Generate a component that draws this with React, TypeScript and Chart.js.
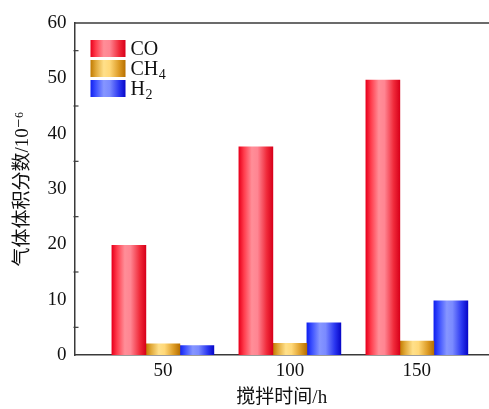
import React, { useEffect, useRef } from "react";
import { Chart, registerables } from "chart.js";

Chart.register(...registerables);

const categories = [50, 100, 150];
const seriesNames = ["CO", "CH₄", "H₂"];
const legendMain = ["CO", "CH", "H"];
const legendSub = ["", "4", "2"];
const coValues = [19.8, 37.6, 49.7];
const ch4Values = [2.0, 2.1, 2.5];
const h2Values = [1.7, 5.8, 9.8];
const yTicks = [0, 10, 20, 30, 40, 50, 60];
const yMinorTicks = [5, 15, 25, 35, 45, 55];

const BAR_W = 34;
const SERIF = '"Liberation Serif", "DejaVu Serif", "Noto Sans CJK SC", serif';

const gradientStops: string[][] = [
  ["#e8001c", "#ff3c4c", "#ff8e98", "#ff8592", "#f02a3a", "#d8001a"],
  ["#c07a00", "#e0a838", "#ffe08a", "#ffd878", "#dc9a24", "#b87000"],
  ["#1020f0", "#3c50ff", "#8696ff", "#7a8aff", "#2a36f0", "#0808c8"],
];
const flatColors = ["#ff5060", "#e8b040", "#5060ff"];

function makeGradient(ctx: CanvasRenderingContext2D, x0: number, x1: number, idx: number) {
  const g = ctx.createLinearGradient(x0, 0, x1, 0);
  const stops = gradientStops[idx];
  const pos = [0, 0.15, 0.38, 0.55, 0.82, 1];
  stops.forEach((c, i) => g.addColorStop(pos[i], c));
  return g;
}

const decorPlugin = {
  id: "decor",
  afterDraw(chart: any) {
    const ctx = chart.ctx as CanvasRenderingContext2D;
    const area = chart.chartArea;
    const y = chart.scales.y;
    ctx.save();
    // top frame line
    ctx.strokeStyle = "#3a3a3a";
    ctx.lineWidth = 1.5;
    ctx.beginPath();
    ctx.moveTo(area.left, area.top);
    ctx.lineTo(area.right, area.top);
    ctx.stroke();
    // minor ticks on left axis
    ctx.lineWidth = 1.2;
    yMinorTicks.forEach((v) => {
      const py = y.getPixelForValue(v);
      ctx.beginPath();
      ctx.moveTo(area.left - 1, py);
      ctx.lineTo(area.left + 4, py);
      ctx.stroke();
    });
    // legend
    const bx = area.left + 16;
    const by = area.top + 17;
    ctx.textBaseline = "alphabetic";
    ctx.textAlign = "left";
    legendMain.forEach((name, i) => {
      const top = by + i * 20;
      ctx.fillStyle = makeGradient(ctx, bx, bx + 35, i);
      ctx.fillRect(bx, top, 35, 17);
      ctx.fillStyle = "#111";
      ctx.font = "20px " + SERIF;
      const base = top + 15;
      ctx.fillText(name, bx + 40, base);
      if (legendSub[i]) {
        const w = ctx.measureText(name).width;
        ctx.font = "14px " + SERIF;
        ctx.fillText(legendSub[i], bx + 40 + w + 0.5, base + 4);
      }
    });
    ctx.restore();
  },
};

export default function App() {
  const ref = useRef<HTMLCanvasElement>(null);
  useEffect(() => {
    document.body.style.margin = "0";
    const seriesValues = [coValues, ch4Values, h2Values];
    const datasets = seriesValues.map((vals, di) => ({
      label: seriesNames[di],
      data: categories.map((c, i) => ({ x: c, y: vals[i] })),
      barThickness: BAR_W,
      borderWidth: 0,
      backgroundColor: (c: any) => {
        const chart = c.chart;
        if (c.type !== "data" || !chart.chartArea || !chart.scales.x) return flatColors[di];
        const center = chart.scales.x.getPixelForValue(c.raw.x) + (di - 1) * BAR_W;
        return makeGradient(chart.ctx, center - BAR_W / 2, center + BAR_W / 2, di);
      },
    }));
    const chart = new Chart(ref.current!, {
      type: "bar",
      data: { datasets },
      options: {
        animation: false,
        responsive: true,
        maintainAspectRatio: false,
        layout: { padding: { top: 23, right: 0, left: 0, bottom: 0 } },
        plugins: { legend: { display: false }, tooltip: { enabled: false } },
        scales: {
          x: {
            type: "linear",
            offset: false,
            min: 15.2,
            max: 178.4,
            afterBuildTicks: (s: any) => {
              s.ticks = categories.map((v) => ({ value: v }));
            },
            afterFit: (s: any) => {
              s.height = 54;
            },
            grid: { display: false, drawTicks: false, offset: false },
            border: { display: true, color: "#3a3a3a", width: 1.5 },
            ticks: { color: "#111", font: { family: SERIF, size: 19 }, padding: 5, maxRotation: 0 },
            title: {
              display: true,
              text: "搅拌时间/h",
              color: "#111",
              font: { family: SERIF, size: 19 },
              padding: { top: 0, bottom: 0 },
            },
          },
          y: {
            min: 0,
            max: 60,
            afterBuildTicks: (s: any) => {
              s.ticks = yTicks.map((v) => ({ value: v }));
            },
            afterFit: (s: any) => {
              s.width = 74.5;
            },
            grid: { display: false, drawTicks: false },
            border: { display: true, color: "#3a3a3a", width: 1.5 },
            ticks: { color: "#111", font: { family: SERIF, size: 19 }, padding: 8 },
            title: {
              display: true,
              text: "气体体积分数/10⁻⁶",
              color: "#111",
              font: { family: SERIF, size: 19 },
              padding: { top: 12, bottom: 0 },
            },
          },
        },
      },
      plugins: [decorPlugin],
    } as any);
    return () => chart.destroy();
  }, []);
  return (
    <div style={{ width: 489, height: 409, position: "relative" }}>
      <canvas ref={ref} />
    </div>
  );
}
